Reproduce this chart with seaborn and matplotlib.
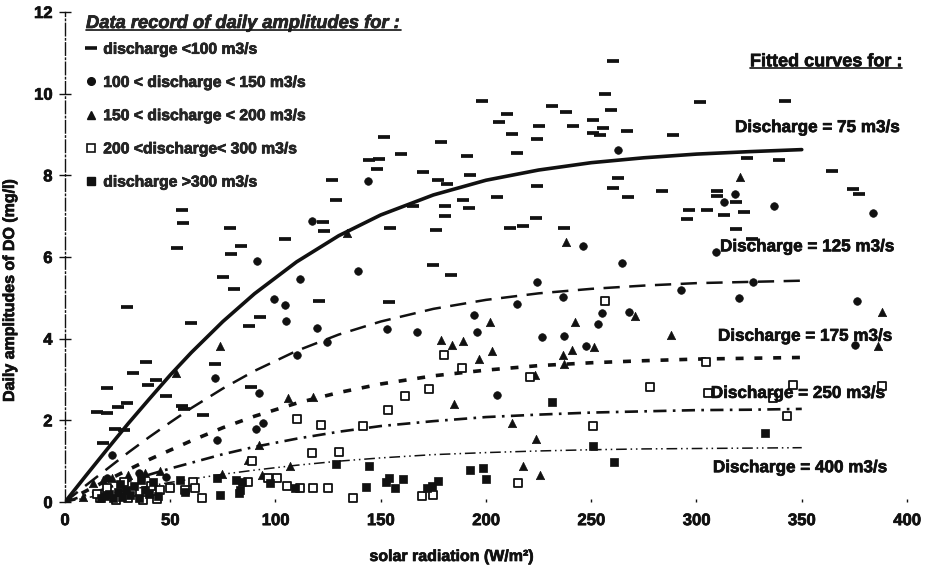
import matplotlib
matplotlib.use("Agg")
import matplotlib.pyplot as plt
import matplotlib.patheffects as pe
import seaborn as sns
from matplotlib.lines import Line2D

# ---------------------------------------------------------------------------
# Observed daily DO amplitudes (mg/l) against solar radiation (W/m2),
# grouped by river discharge class
# ---------------------------------------------------------------------------
q_lt100_x = [55.4, 56.2, 53.1, 78.4, 83.6, 79.0, 75.2, 80.3, 104.5, 123.2, 122.5, 120.8,
             92.6, 87.3, 59.7, 29.3, 38.5, 32.2, 43.1, 39.6, 19.8, 48.0, 71.3, 88.2,
             128.7, 126.7,
             260.5, 256.5, 259.4, 251.0, 255.7, 251.0, 254.0, 266.8, 231.5, 238.0, 241.2,
             225.2, 224.1, 210.1, 206.0, 212.4, 214.6, 198.1, 191.0, 192.3, 178.5, 170.1,
             177.0, 181.3, 180.7, 189.2, 191.9, 180.7, 176.2, 175.0, 183.2, 205.1, 224.4,
             223.6, 217.7, 211.4, 237.2, 262.5, 260.5, 267.3, 151.7, 144.4, 149.3, 148.1,
             159.6, 154.4, 165.5, 154.1,
             301.7, 342.2, 289.0, 323.8, 339.3, 364.5, 374.5, 377.3, 283.5, 309.6, 309.9,
             318.8, 296.6, 304.8, 295.3, 313.1, 322.6, 318.8, 326.2,
             15.1, 19.8, 25.3, 29.3, 23.8, 28.0, 18.2, 55.4, 56.5, 65.7]
q_lt100_y = [7.14, 6.83, 6.22, 6.72, 6.28, 6.08, 5.52, 5.22, 6.44, 6.64, 6.86, 4.93,
             4.54, 4.32, 4.39, 4.78, 3.44, 3.15, 2.99, 2.87, 2.79, 2.60, 3.37, 2.81,
             7.40, 7.88,
             10.79, 9.99, 9.59, 9.35, 9.16, 9.04, 9.00, 9.09, 9.71, 9.54, 9.22,
             9.22, 8.89, 9.51, 9.30, 9.02, 8.55, 9.82, 8.47, 8.02, 8.81, 8.08,
             7.88, 7.79, 7.26, 7.39, 7.21, 7.01, 6.65, 5.81, 5.55, 7.48, 7.74,
             6.96, 6.77, 6.71, 6.72, 7.94, 7.69, 7.48, 8.93, 8.38, 8.40, 8.16,
             8.52, 6.71, 7.26, 4.91,
             9.80, 9.82, 8.98, 8.42, 8.37, 8.11, 7.67, 7.55, 7.62, 7.61, 7.50,
             7.35, 7.14, 7.14, 6.93, 7.04, 7.09, 6.68, 6.44,
             2.20, 2.17, 2.32, 2.42, 1.78, 1.76, 1.44, 2.35, 2.27, 2.13]

q_100_150_x = [91.0, 111.6, 99.3, 104.7, 105.0, 119.6, 124.3, 110.1, 139.0, 71.3, 92.2,
               117.2, 144.1, 224.4, 214.6, 194.4, 236.7, 246.2, 264.5, 262.5, 254.9,
               318.3, 313.1, 336.8, 384.0, 309.3, 292.5, 327.0, 320.3, 376.1, 268.1,
               375.3, 153.1, 167.4, 195.6, 253.0, 226.4, 237.2, 247.5, 205.4, 94.2,
               90.7, 72.0, 22.2, 20.0, 35.0, 48.0]
q_100_150_y = [5.89, 5.46, 4.97, 4.83, 4.44, 4.25, 3.93, 3.59, 5.65, 3.03, 2.68,
               6.89, 7.85, 5.38, 4.84, 4.57, 5.02, 6.26, 5.85, 8.62, 4.64,
               7.55, 7.35, 7.24, 7.08, 6.12, 5.20, 5.38, 4.99, 4.93, 4.66,
               3.85, 4.24, 4.16, 4.16, 4.36, 4.05, 4.07, 3.83, 2.61, 1.94,
               1.80, 1.52, 1.15, 0.60, 0.70, 0.62]

q_150_200_x = [73.6, 133.8, 52.6, 105.9, 117.8, 238.0, 320.7, 388.3, 270.8, 287.7,
               386.4, 178.6, 184.0, 189.2, 201.9, 203.0, 196.8, 242.3, 240.9, 236.7,
               251.5, 223.3, 237.2, 184.8, 212.5, 223.8, 217.4, 225.7, 92.3, 106.9,
               87.1, 93.4, 74.4, 22.2, 8.7, 13.4, 18.0, 30.0, 45.0, 38.0]
q_150_200_y = [3.83, 6.58, 3.17, 2.55, 2.58, 6.36, 7.97, 4.66, 4.56, 4.09,
               3.81, 3.97, 3.85, 3.95, 4.42, 3.70, 3.50, 4.40, 3.73, 3.59,
               3.79, 3.10, 3.38, 2.40, 1.93, 1.54, 0.88, 0.65, 1.40, 0.89,
               1.03, 0.66, 0.68, 0.58, 0.13, 0.46, 0.55, 0.65, 0.75, 0.70]

q_200_300_x = [256.5, 304.5, 277.9, 305.3, 345.7, 336.2, 342.8, 388.0, 161.5, 173.1,
               153.6, 121.5, 141.7, 251.0, 117.2, 130.3, 215.4, 169.4, 174.6, 118.0,
               125.0, 136.7, 111.6, 180.0, 188.5, 220.9, 110.4, 88.7, 65.2, 87.1,
               96.6, 100.5, 105.3, 61.0, 57.0, 61.8, 49.9, 43.6, 16.6,
               15.0, 20.0, 24.0, 28.0, 32.0, 37.0, 41.0, 45.0, 30.0]
q_200_300_y = [4.93, 3.44, 2.81, 2.68, 2.87, 2.54, 2.11, 2.83, 2.60, 2.77,
               2.25, 1.89, 1.86, 1.87, 1.19, 1.23, 0.46, 0.15, 0.17, 0.34,
               0.34, 0.10, 0.34, 3.60, 3.29, 3.06, 2.03, 1.00, 0.09, 0.50,
               0.58, 0.58, 0.39, 0.50, 0.30, 0.34, 0.34, 0.07, 0.09,
               0.20, 0.35, 0.05, 0.50, 0.25, 0.05, 0.40, 0.30, 0.10]

q_gt300_x = [332.5, 260.8, 231.5, 128.7, 144.6, 251.0, 192.4, 198.4, 200.0, 143.0,
             152.5, 154.0, 156.8, 160.4, 171.8, 174.2, 177.3, 73.6, 83.1, 81.2,
             97.4, 109.3, 72.0, 54.6, 83.9, 82.8, 57.0,
             17.0, 19.0, 21.0, 23.0, 25.0, 27.0, 29.0, 31.0, 33.0, 35.0, 38.0,
             40.0, 42.0, 44.0, 26.0, 36.0]
q_gt300_y = [1.68, 0.99, 2.44, 0.92, 0.87, 1.36, 0.78, 0.84, 0.57, 0.36,
             0.50, 0.58, 0.34, 0.56, 0.34, 0.39, 0.51, 0.17, 0.29, 0.54,
             0.46, 0.34, 0.58, 0.54, 0.50, 0.21, 0.25,
             0.10, 0.15, 0.20, 0.10, 0.25, 0.12, 0.30, 0.18, 0.40, 0.10, 0.30,
             0.20, 0.50, 0.15, 0.45, 0.55]

# ---------------------------------------------------------------------------
# Fitted light-response curves, one per discharge value
# ---------------------------------------------------------------------------
fit_radiation = [0, 10, 20, 30, 40, 50, 60, 75, 90, 110, 130, 150, 175, 200, 225,
                 250, 275, 300, 325, 350]
fit_q75 = [0, 0.65, 1.29, 1.92, 2.52, 3.11, 3.66, 4.42, 5.10, 5.88, 6.52, 7.03, 7.52,
           7.88, 8.13, 8.31, 8.43, 8.52, 8.58, 8.63]
fit_q125 = [0, 0.41, 0.81, 1.21, 1.59, 1.95, 2.30, 2.78, 3.21, 3.70, 4.10, 4.42, 4.73,
            4.95, 5.11, 5.22, 5.30, 5.36, 5.39, 5.42]
fit_q175 = [0, 0.27, 0.53, 0.79, 1.04, 1.27, 1.50, 1.82, 2.10, 2.42, 2.68, 2.89, 3.09,
            3.23, 3.34, 3.41, 3.46, 3.50, 3.52, 3.54]
fit_q250 = [0, 0.17, 0.34, 0.51, 0.67, 0.82, 0.96, 1.17, 1.35, 1.55, 1.72, 1.86, 1.98,
            2.08, 2.14, 2.19, 2.22, 2.25, 2.26, 2.28]
fit_q400 = [0, 0.10, 0.20, 0.29, 0.39, 0.48, 0.56, 0.68, 0.78, 0.90, 1.00, 1.08, 1.16,
            1.21, 1.25, 1.28, 1.30, 1.31, 1.32, 1.33]

legend_labels = ["discharge <100 m3/s", "100 < discharge < 150 m3/s",
                 "150 < discharge < 200 m3/s", "200 <discharge< 300 m3/s",
                 "discharge >300 m3/s"]
curve_labels = ["Discharge = 75 m3/s", "Discharge = 125 m3/s", "Discharge = 175 m3/s",
                "Discharge = 250 m3/s", "Discharge = 400 m3/s"]

x_ticks = [0, 50, 100, 150, 200, 250, 300, 350, 400]
y_ticks = [0, 2, 4, 6, 8, 10, 12]

# ---------------------------------------------------------------------------
sns.set_theme(style="white")
plt.rcParams["font.family"] = ["Liberation Sans", "DejaVu Sans"]
plt.rcParams["font.weight"] = "bold"

W, H = 928, 565
fig = plt.figure(figsize=(W / 100, H / 100), dpi=100)
ax = fig.add_axes([65 / W, 1 - 502 / H, (907 - 65) / W, (502 - 12) / H])

ink = "#111111"
heavy = [pe.withStroke(linewidth=0.5, foreground=ink)]

# fitted curves
curve_sets = [
    (fit_q75, dict(linestyle="-", linewidth=2.6)),
    (fit_q125, dict(linestyle=(0, (6.5, 3.8)), linewidth=1.8)),
    (fit_q175, dict(linestyle=(0, (2.2, 3.0)), linewidth=2.6)),
    (fit_q250, dict(linestyle=(0, (5.0, 2.4, 1.0, 2.4)), linewidth=1.9)),
    (fit_q400, dict(linestyle=(0, (7.0, 2.5, 1.0, 2.5, 1.0, 2.5)), linewidth=1.1)),
]
for values, style in curve_sets:
    sns.lineplot(x=fit_radiation, y=values, ax=ax, color=ink, errorbar=None,
                 legend=False, **style)

# observations
sns.scatterplot(x=q_lt100_x, y=q_lt100_y, ax=ax, marker="_", s=85, linewidth=2.7,
                color=ink, clip_on=False, zorder=3, legend=False)
sns.scatterplot(x=q_100_150_x, y=q_100_150_y, ax=ax, marker="o", s=30,
                color=ink, edgecolor=ink, linewidth=0.5, clip_on=False, zorder=3,
                legend=False)
sns.scatterplot(x=q_150_200_x, y=q_150_200_y, ax=ax, marker="^", s=36,
                color=ink, edgecolor=ink, linewidth=0.5, clip_on=False, zorder=3,
                legend=False)
sns.scatterplot(x=q_200_300_x, y=q_200_300_y, ax=ax, marker="s", s=26,
                color=ink, facecolor="white", edgecolor=ink, linewidth=1.3,
                clip_on=False, zorder=3, legend=False)
sns.scatterplot(x=q_gt300_x, y=q_gt300_y, ax=ax, marker="s", s=30,
                color=ink, edgecolor=ink, linewidth=0.5, clip_on=False, zorder=3,
                legend=False)

# axes
ax.set_xlim(0, 400)
ax.set_ylim(0, 12)
ax.set_xticks(x_ticks)
ax.set_yticks(y_ticks)
ax.set_xticklabels([str(v) for v in x_ticks], fontsize=12, fontweight="bold", color=ink)
ax.set_yticklabels([str(v) for v in y_ticks], fontsize=12, fontweight="bold", color=ink)
for lab in ax.get_xticklabels() + ax.get_yticklabels():
    lab.set_path_effects(heavy)
for side in ("top", "right", "bottom"):
    ax.spines[side].set_visible(False)
ax.spines["left"].set_color(ink)
ax.spines["left"].set_linewidth(1.0)
ax.spines["left"].set_linestyle((0, (9, 2, 1, 2)))
ax.tick_params(axis="y", direction="inout", length=8, width=1, color=ink, pad=5, left=True)
ax.tick_params(axis="x", direction="in", length=2, width=1, color=ink, pad=8, bottom=True)
ax.grid(False)

ax.set_xlabel("solar radiation (W/m²)", fontsize=11.5, fontweight="bold", color=ink,
              path_effects=heavy)
ax.set_ylabel("Daily amplitudes of DO (mg/l)", fontsize=11.5, fontweight="bold",
              color=ink, path_effects=heavy)
ax.xaxis.set_label_coords((452 - 65) / 842, (502 - 549) / 490)
ax.yaxis.set_label_coords((17 - 65) / 842, (502 - 290) / 490)

# legend for the observations
handles = [
    Line2D([], [], marker="_", ls="none", color=ink, markersize=8, markeredgewidth=2.6),
    Line2D([], [], marker="o", ls="none", color=ink, markersize=5.5),
    Line2D([], [], marker="^", ls="none", color=ink, markersize=6),
    Line2D([], [], marker="s", ls="none", markerfacecolor="white",
           markeredgecolor=ink, markeredgewidth=1.2, markersize=5.5),
    Line2D([], [], marker="s", ls="none", color=ink, markersize=5.5),
]
leg = ax.legend(handles, legend_labels, loc="upper left",
                bbox_to_anchor=(86 / W, 1 - 15 / H), bbox_transform=fig.transFigure,
                frameon=False, handlelength=0.7, handletextpad=0.4,
                labelspacing=1.16, borderpad=0, borderaxespad=0,
                prop={"size": 11.3, "weight": "bold"},
                title="Data record of daily amplitudes for :",
                title_fontproperties={"size": 13.2, "weight": "bold", "style": "italic"},
                alignment="left")
leg._legend_box.sep = 7
leg.get_title().set_path_effects(heavy)
for t in leg.get_texts():
    t.set_path_effects(heavy)

# curve annotations
label_pos = [(318.3, 9.17), (311.2, 6.25), (310.2, 4.06), (306.8, 2.66), (307.8, 0.84)]
for text, (lx, ly) in zip(curve_labels, label_pos):
    ax.text(lx, ly, text, fontsize=12.3, fontweight="bold", color=ink,
            ha="left", va="center", path_effects=heavy)

fitted_title = ax.text(325.4, 10.78, "Fitted curves for :", fontsize=13,
                       fontweight="bold", color=ink, ha="left", va="center",
                       path_effects=heavy)

# underline both headings
fig.canvas.draw()
renderer = fig.canvas.get_renderer()
for t in (leg.get_title(), fitted_title):
    bb = t.get_window_extent(renderer)
    x0, x1 = bb.x0 / W, bb.x1 / W
    y = (bb.y0 + 2) / H
    fig.add_artist(Line2D([x0, x1], [y, y], transform=fig.transFigure,
                          color=ink, linewidth=1.2))

fig.savefig("out.png", dpi=100, facecolor="white")
